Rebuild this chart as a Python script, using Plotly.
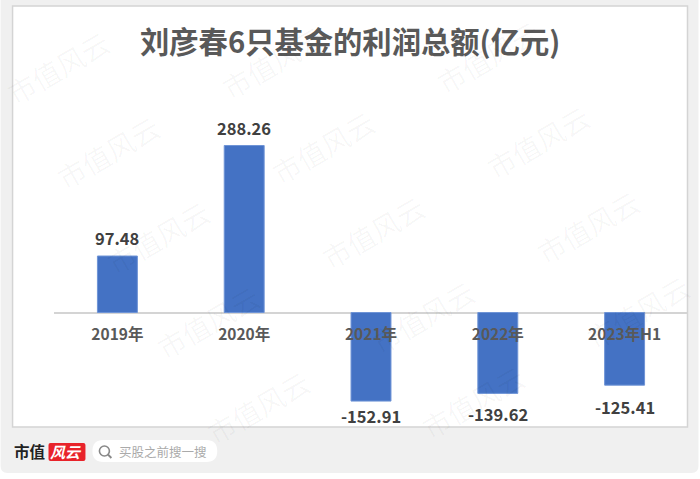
import plotly.graph_objects as go

categories = ["2019年", "2020年", "2021年", "2022年", "2023年H1"]
profits = [97.48, 288.26, -152.91, -139.62, -125.41]
labels = ["97.48", "288.26", "-152.91", "-139.62", "-125.41"]
title_text = "刘彦春6只基金的利润总额(亿元)"
watermark = "市值风云"

W, H = 700, 479
CJK = "Noto Sans CJK SC"

# panel geometry in pixels
PL, PR, PT, PB = 53.5, 688.5, 6, 427
ZERO_Y = 312.5
SCALE = 0.5793
y_hi = (ZERO_Y - PT) / SCALE
y_lo = -(PB - ZERO_Y) / SCALE

# gap in pixels between each bar end and the centre of its hand-placed label
label_gaps = [18, 17.5, -15, -21, -22]

# paper coordinates are measured on the plot area
px = lambda x: (x - PL) / (PR - PL)
py = lambda y: (PB - y) / (PB - PT)
UX, UY = 1 / (PR - PL), 1 / (PB - PT)

fig = go.Figure(
    go.Bar(
        x=categories, y=profits, width=0.315,
        marker=dict(color="#4472c4", line=dict(color="#6f94d6", width=1)),
        hoverinfo="skip",
    )
)

def rect(x0, y0, x1, y1, fill, line=None, layer="below"):
    return dict(type="rect", xref="paper", yref="paper", x0=px(x0), x1=px(x1),
                y0=py(y0), y1=py(y1), fillcolor=fill, layer=layer,
                line=dict(color=line or "rgba(0,0,0,0)", width=1.5 if line else 0))

def rounded(x0, y0, x1, y1, r, fill, top=True):
    a, b, c, d = px(x0), px(x1), py(y0), py(y1)
    rx, ry = r * UX, r * UY
    if top:
        p = (f"M {a} {c} L {b} {c} L {b} {d+ry} Q {b} {d} {b-rx} {d} "
             f"L {a+rx} {d} Q {a} {d} {a} {d+ry} Z")
    else:
        p = (f"M {a+rx} {c} L {b-rx} {c} Q {b} {c} {b} {c-ry} L {b} {d+ry} Q {b} {d} {b-rx} {d} "
             f"L {a+rx} {d} Q {a} {d} {a} {d+ry} L {a} {c-ry} Q {a} {c} {a+rx} {c} Z")
    return dict(type="path", path=p, xref="paper", yref="paper", fillcolor=fill,
                line=dict(width=0), layer="below")

shapes = [
    rounded(0, 0, 699, 473, 7, "#f0f0f0"),
    rect(12, 6, 688, 427, "#ffffff", "#d4d4d4"),
    rounded(48, 443, 85, 461, 2, "#e8232a", top=False),
    rounded(92, 440, 217, 462, 11, "#ffffff", top=False),
    dict(type="circle", xref="paper", yref="paper", x0=px(99), x1=px(109), y0=py(446), y1=py(456),
         line=dict(color="#888888", width=1.6), layer="above"),
    dict(type="line", xref="paper", yref="paper", x0=px(107.5), x1=px(111), y0=py(454.5), y1=py(458),
         line=dict(color="#888888", width=1.8), layer="above"),
]

def txt(x, y, s, size, color, weight="normal", family=CJK, xanchor="center"):
    return dict(x=px(x), y=py(y), xref="paper", yref="paper", text=s, showarrow=False,
                xanchor=xanchor, yanchor="middle",
                font=dict(family=family, size=size, color=color, weight=weight))

annotations = [
    txt(350, 40, title_text, 29.3, "#595959", "bold"),
    txt(29, 451, "市值", 15.5, "#222222", "bold"),
    txt(66, 451, "<i>风云</i>", 15, "#ffffff", "bold"),
    txt(117, 451, "买股之前搜一搜", 12.5, "#aaaaaa", xanchor="left"),
]

# data labels, anchored on the values through the axes
for cat, val, lab, gap in zip(categories, profits, labels, label_gaps):
    annotations.append(dict(
        x=cat, y=val, xref="x", yref="y", text=lab, showarrow=False,
        xanchor="center", yanchor="middle", yshift=gap,
        font=dict(family=CJK, size=16.5, color="#404040", weight="bold"),
    ))

# faint tiled watermark
for i in range(-3, 7):
    for j in range(-1, 5):
        wx = 58 + 50 * i + 215 * j
        wy = 67 + 85 * i - 5 * j
        if 50 < wx < 650 and 30 < wy < 450:
            a = txt(wx, wy, watermark, 28, "rgba(0,0,0,0.035)")
            a["textangle"] = -30
            annotations.append(a)

fig.update_layout(
    width=W, height=H,
    autosize=False,
    paper_bgcolor="#ffffff",
    plot_bgcolor="rgba(0,0,0,0)",
    margin=dict(l=PL, r=W - PR, t=PT, b=H - PB, pad=0),
    showlegend=False,
    shapes=shapes,
    annotations=annotations,
    xaxis=dict(
        type="category",
        anchor="free",
        position=(PB - ZERO_Y) / (PB - PT),
        showgrid=False,
        showline=False,
        zeroline=False,
        ticks="outside", ticklen=8, tickcolor="rgba(0,0,0,0)",
        tickfont=dict(family=CJK, size=15.5, color="#595959", weight="bold"),
    ),
    yaxis=dict(
        range=[y_lo, y_hi],
        showticklabels=False,
        showgrid=False,
        ticks="",
        zeroline=True, zerolinecolor="#d4d4d4", zerolinewidth=1.5,
    ),
)

fig.write_html("out.html", config={"displayModeBar": False},
               post_script="document.body.style.margin='0';")
